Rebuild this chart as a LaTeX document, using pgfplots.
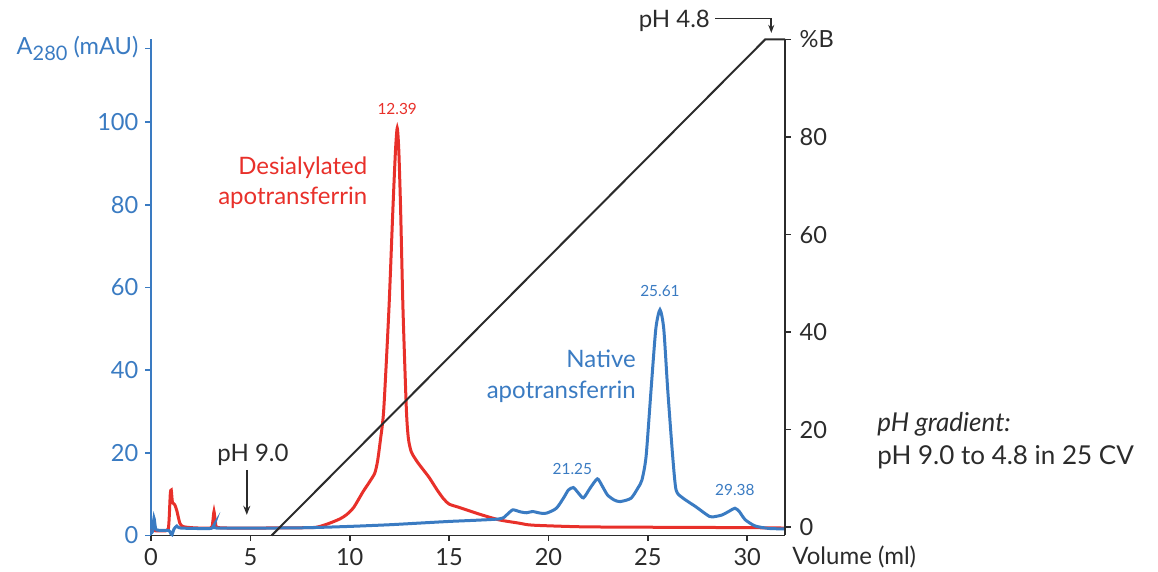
\documentclass[border=0pt]{standalone}
\usepackage{pgfplots}
\pgfplotsset{compat=1.18}
\usepackage{fontspec}
\setmainfont{Lato}
\usetikzlibrary{arrows.meta}

\definecolor{trfred}{HTML}{E8302A}
\definecolor{trfblue}{HTML}{3A7BC2}
\definecolor{axgray}{HTML}{2B2B2B}

% Anion exchange with a pH gradient: desialylated vs native apotransferrin
\pgfplotstableread{
ml     mAU
0.00   1.2
0.80   1.2
0.90   3.0
0.97   10.0
1.02   11.0
1.08   8.0
1.20   7.4
1.30   6.0
1.45   3.0
1.60   2.2
2.00   1.9
3.00   1.8
3.10   3.0
3.17   5.8
3.25   3.0
3.40   1.9
5.00   1.8
8.00   1.9
8.50   2.2
9.00   3.0
9.50   4.0
9.83   5.0
10.20  6.8
10.67  10.6
11.00  13.0
11.26  15.1
11.40  18.0
11.54  23.0
11.71  30.4
11.97  54.6
12.17  78.8
12.30  93.0
12.39  98.6
12.47  93.0
12.56  78.8
12.68  54.6
12.85  30.4
12.95  23.5
13.10  20.2
13.40  17.8
13.70  15.9
14.00  14.0
14.40  11.0
14.70  9.0
15.00  7.6
15.50  6.8
16.50  5.2
17.50  3.8
18.50  3.0
19.20  2.5
21.70  2.1
25.00  2.0
30.00  1.9
31.90  1.8
}\desialylated

\pgfplotstableread{
ml     mAU
0.00   0.6
0.08   1.0
0.15   4.2
0.22   2.0
0.30   1.3
0.90   1.2
1.00   0.4
1.06   0.2
1.15   1.5
1.30   2.3
1.50   1.8
3.00   1.7
3.17   2.5
3.30   1.8
6.00   1.8
8.00   1.9
10.00  2.2
12.00  2.6
13.50  3.0
15.00  3.4
17.50  4.0
17.90  5.0
18.20  6.2
18.60  5.7
18.90  5.5
19.20  5.8
19.60  5.4
19.90  5.4
20.40  6.6
20.80  9.4
21.00  11.0
21.25  11.6
21.50  10.3
21.76  9.1
22.10  11.5
22.46  13.7
22.70  12.0
22.97  9.8
23.30  8.6
23.60  8.2
24.15  9.0
24.50  11.5
24.70  13.4
24.91  19.1
25.16  35.2
25.40  50.0
25.61  54.6
25.80  50.0
26.00  35.2
26.25  19.1
26.42  11.0
26.75  9.1
27.40  7.0
28.10  4.6
28.40  4.6
28.75  5.0
29.10  5.9
29.38  6.6
29.60  5.8
29.90  3.8
30.40  2.3
31.10  1.7
31.90  1.6
}\native

\pgfplotstableread{
ml     B
6.07   -1.7
30.90  100
31.90  100
}\gradient

\begin{document}
\begin{tikzpicture}
\path[use as bounding box] (-75.5pt,-18.25pt) rectangle (503.5pt,267.75pt);
\pgfplotsset{
  every axis/.append style={
    scale only axis, width=317pt, height=248pt,
    at={(0pt,0pt)}, anchor=south west,
    xmin=0, xmax=31.9, clip=false,
    /pgf/number format/assume math mode=true,
    tick label style={font=\fontsize{11.8}{13}\selectfont},
    tick align=outside, major tick length=2.8pt,
  },
}
% absorbance, left axis
\begin{axis}[
  ymin=0, ymax=120,
  axis x line*=bottom, axis y line*=left,
  axis line style={-},
  x axis line style={axgray, line width=0.9pt},
  y axis line style={trfblue, line width=0.9pt},
  xtick={0,5,...,30},
  x tick style={axgray, line width=0.8pt},
  xticklabel style={axgray},
  ytick={0,20,...,100},
  y tick style={trfblue, line width=0.8pt},
  yticklabel style={trfblue},
  extra y ticks={117.8},
  extra y tick labels={A\raisebox{-3pt}{\fontsize{10}{10}\selectfont 280} (mAU)},
  extra y tick style={yticklabel style={trfblue}},
]
\addplot[trfred, line width=1.5pt, smooth, tension=0.4] table[x=ml, y=mAU] {\desialylated};
\addplot[trfblue, line width=1.5pt, smooth, tension=0.4] table[x=ml, y=mAU] {\native};

\begin{scope}[font=\fontsize{7.7}{9}\selectfont]
\node[trfred, anchor=south, yshift=3pt] at (axis cs:12.39,98.6) {12.39};
\node[trfblue, anchor=south, yshift=3pt] at (axis cs:25.61,54.6) {25.61};
\node[trfblue, anchor=south, yshift=3pt] at (axis cs:21.2,11.6) {21.25};
\node[trfblue, anchor=south, yshift=3pt] at (axis cs:29.38,6.6) {29.38};
\end{scope}

\begin{scope}[font=\fontsize{12}{14}\selectfont, inner sep=0pt]
\node[trfred, anchor=base east] at (axis cs:10.9,87.3) {Desialylated};
\node[trfred, anchor=base east] at (axis cs:10.9,80.0) {apotransferrin};
\node[trfblue, anchor=base east] at (axis cs:24.41,40.7) {Native};
\node[trfblue, anchor=base east] at (axis cs:24.41,33.05) {apotransferrin};
\node[axgray, anchor=base] at (axis cs:5.13,17.9) {pH 9.0};
\node[axgray, anchor=base east] at (axis cs:28.14,122.9) {pH 4.8};
\node[axgray, anchor=base west] at ([xshift=3.5pt, yshift=-14.75pt]axis cs:31.9,0) {Volume (ml)};
\end{scope}
\begin{scope}[font=\fontsize{13}{15}\selectfont, inner sep=0pt]
\node[axgray, anchor=base west] at (axis cs:36.53,25.1) {\itshape pH gradient:};
\node[axgray, anchor=base west] at (axis cs:36.53,17.07) {pH 9.0 to 4.8 in 25 CV};
\end{scope}

\draw[axgray, line width=0.8pt, -{Stealth[length=4.5pt, width=3.5pt]}] (axis cs:4.82,15.9) -- (axis cs:4.82,5.0);
\draw[axgray, line width=0.8pt, -{Stealth[length=4pt, width=3pt]}] (axis cs:28.39,125.1) -| (axis cs:31.21,121.6);
\end{axis}

% gradient, right axis
\begin{axis}[
  ymin=-1.7, ymax=100,
  axis x line=none, axis y line*=right,
  axis line style={-},
  y axis line style={axgray, line width=0.9pt},
  ytick={0,20,...,80},
  y tick style={axgray, line width=0.8pt},
  yticklabel style={axgray, xshift=1pt},
  extra y ticks={100},
  extra y tick labels={\%B},
  extra y tick style={yticklabel style={axgray}},
]
\addplot[axgray, line width=1pt] table[x=ml, y=B] {\gradient};
\end{axis}
\end{tikzpicture}
\end{document}
